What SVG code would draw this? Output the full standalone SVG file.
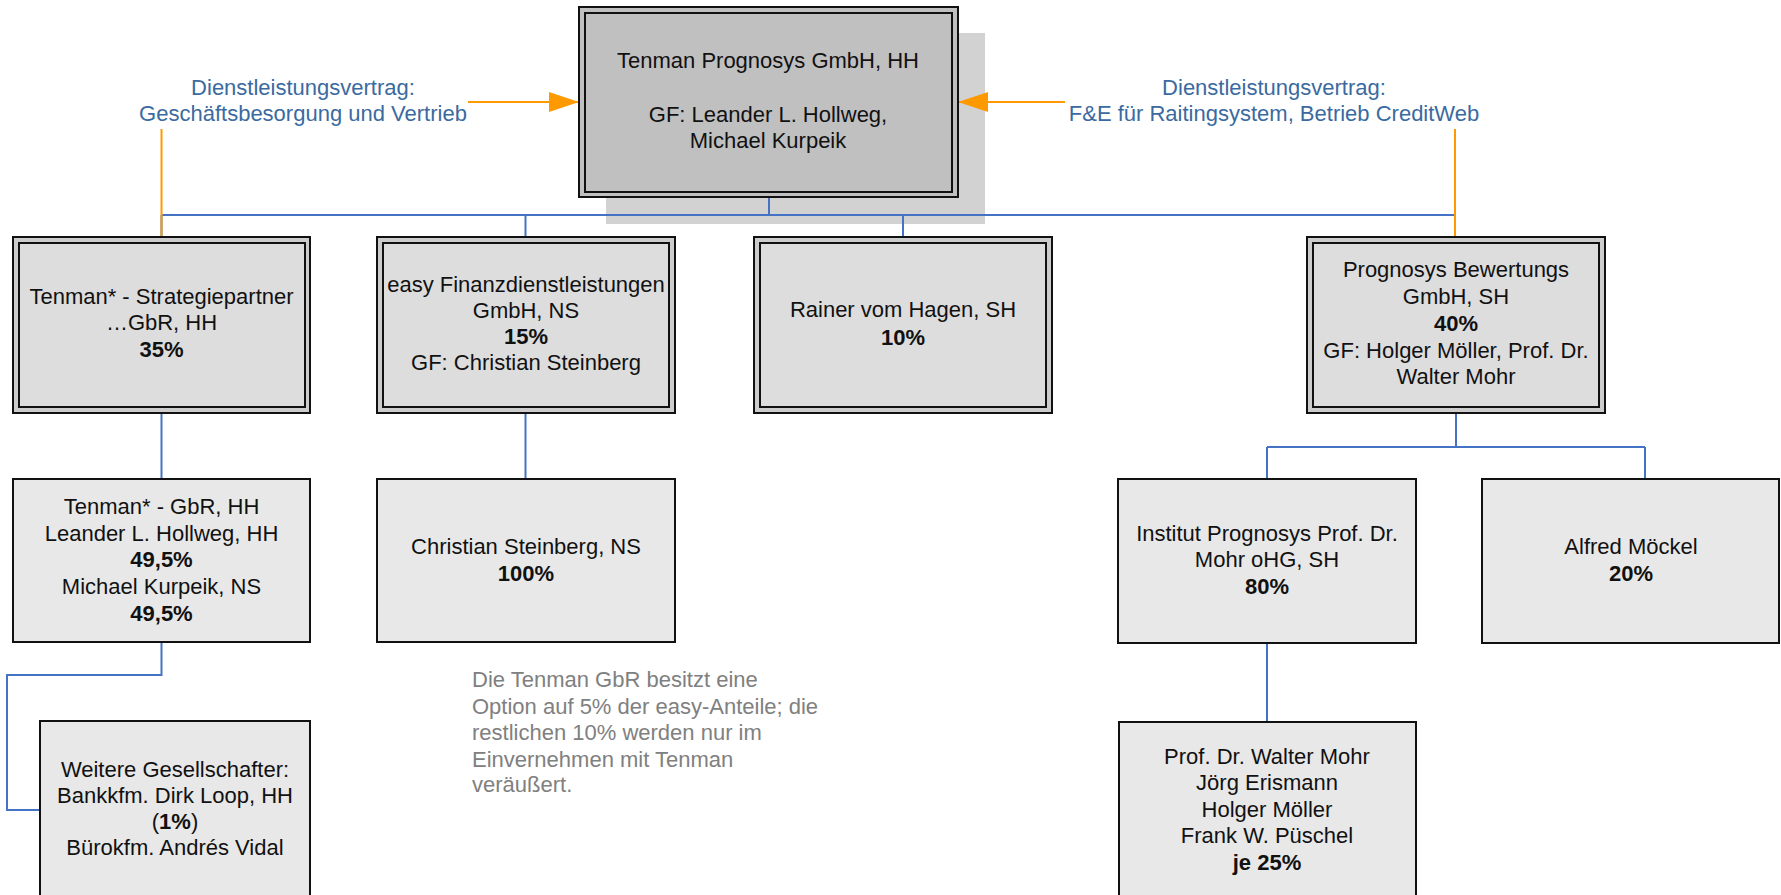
<svg xmlns="http://www.w3.org/2000/svg" width="1781" height="895" viewBox="0 0 1781 895">
<defs>
<style>
text{font-family:"Liberation Sans",Arial,sans-serif;font-size:22px;fill:#111;text-anchor:middle}
.b{font-weight:bold}
.lbl{fill:#3b6aa0}
.note{fill:#808080;text-anchor:start}
.out{fill:#cccccc;stroke:#111;stroke-width:2}
.in{fill:#dddddd;stroke:#111;stroke-width:2}
.box2{fill:#e8e8e8;stroke:#111;stroke-width:2}
.con{fill:none;stroke:#4472c4;stroke-width:2}
.ora{fill:none;stroke:#ff9900;stroke-width:2}
</style>
<marker id="ah" markerWidth="30" markerHeight="20" refX="30" refY="10" orient="auto" markerUnits="userSpaceOnUse">
<path d="M0,0 L30,10 L0,20 Z" fill="#ff9900"/>
</marker>
</defs>
<rect width="1781" height="895" fill="#ffffff"/>

<rect x="606" y="33" width="379" height="191" fill="#d2d2d2"/>

<g id="connectors">
<path class="con" d="M769 197 V215"/>
<path class="con" d="M161.5 215 H1455"/>
<path class="con" d="M161.5 215 V237"/>
<path class="con" d="M525.5 215 V237"/>
<path class="con" d="M903 215 V237"/>
<path class="con" d="M1455 215 V237"/>
<path class="con" d="M161.5 413 V479"/>
<path class="con" d="M525.5 413 V479"/>
<path class="con" d="M1456 413 V447 M1267 447 H1645 M1267 447 V479 M1645 447 V479"/>
<path class="con" d="M161.5 642 V675 H7 V810 H40"/>
<path class="con" d="M1267 643 V722"/>
<path class="ora" d="M161.5 129 V237"/>
<path class="ora" d="M1455 129 V237"/>
<path class="ora" d="M468 102 H579" marker-end="url(#ah)"/>
<path class="ora" d="M1065 102 H958" marker-end="url(#ah)"/>
</g>

<g id="top">
<rect x="579" y="7" width="379" height="190" fill="#c0c0c0" stroke="#111" stroke-width="2"/>
<rect x="585" y="13" width="367" height="179" fill="#c0c0c0" stroke="#111" stroke-width="2"/>
<text x="768" y="68">Tenman Prognosys GmbH, HH</text>
<text x="768" y="122">GF: Leander L. Hollweg,</text>
<text x="768" y="148">Michael Kurpeik</text>
</g>

<g id="label-left">
<text class="lbl" x="303" y="95">Dienstleistungsvertrag:</text>
<text class="lbl" x="303" y="121">Geschäftsbesorgung und Vertrieb</text>
</g>
<g id="label-right">
<text class="lbl" x="1274" y="95">Dienstleistungsvertrag:</text>
<text class="lbl" x="1274" y="121">F&amp;E für Raitingsystem, Betrieb CreditWeb</text>
</g>

<g id="boxA">
<rect class="out" x="13" y="237" width="297" height="176"/>
<rect class="in" x="19" y="243" width="286" height="164"/>
<text x="161.5" y="304">Tenman* - Strategiepartner</text>
<text x="161.5" y="330">…GbR, HH</text>
<text class="b" x="161.5" y="356.5">35%</text>
</g>

<g id="boxB">
<rect class="out" x="377" y="237" width="298" height="176"/>
<rect class="in" x="383" y="243" width="286" height="164"/>
<text x="526" y="291.5">easy Finanzdienstleistungen</text>
<text x="526" y="317.5">GmbH, NS</text>
<text class="b" x="526" y="344">15%</text>
<text x="526" y="370">GF: Christian Steinberg</text>
</g>

<g id="boxC">
<rect class="out" x="754" y="237" width="298" height="176"/>
<rect class="in" x="760" y="243" width="286" height="164"/>
<text x="903" y="317">Rainer vom Hagen, SH</text>
<text class="b" x="903" y="344.5">10%</text>
</g>

<g id="boxD">
<rect class="out" x="1307" y="237" width="298" height="176"/>
<rect class="in" x="1313" y="243" width="286" height="164"/>
<text x="1456" y="277">Prognosys Bewertungs</text>
<text x="1456" y="304">GmbH, SH</text>
<text class="b" x="1456" y="330.5">40%</text>
<text x="1456" y="357.5">GF: Holger Möller, Prof. Dr.</text>
<text x="1456" y="384">Walter Mohr</text>
</g>

<g id="boxE">
<rect class="box2" x="13" y="479" width="297" height="163"/>
<text x="161.5" y="513.5">Tenman* - GbR, HH</text>
<text x="161.5" y="540.5">Leander L. Hollweg, HH</text>
<text class="b" x="161.5" y="567">49,5%</text>
<text x="161.5" y="593.5">Michael Kurpeik, NS</text>
<text class="b" x="161.5" y="620.5">49,5%</text>
</g>

<g id="boxF">
<rect class="box2" x="377" y="479" width="298" height="163"/>
<text x="526" y="553.5">Christian Steinberg, NS</text>
<text class="b" x="526" y="580.5">100%</text>
</g>

<g id="boxG">
<rect class="box2" x="40" y="721" width="270" height="190"/>
<text x="175" y="776.5">Weitere Gesellschafter:</text>
<text x="175" y="802.5">Bankkfm. Dirk Loop, HH</text>
<text x="175" y="829">(<tspan class="b">1%</tspan>)</text>
<text x="175" y="855">Bürokfm. Andrés Vidal</text>
</g>

<g id="note">
<text class="note" x="472" y="687">Die Tenman GbR besitzt eine</text>
<text class="note" x="472" y="713.5">Option auf 5% der easy-Anteile; die</text>
<text class="note" x="472" y="740">restlichen 10% werden nur im</text>
<text class="note" x="472" y="766.5">Einvernehmen mit Tenman</text>
<text class="note" x="472" y="792">veräußert.</text>
</g>

<g id="boxH">
<rect class="box2" x="1118" y="479" width="298" height="164"/>
<text x="1267" y="540.5">Institut Prognosys Prof. Dr.</text>
<text x="1267" y="567">Mohr oHG, SH</text>
<text class="b" x="1267" y="593.5">80%</text>
</g>

<g id="boxI">
<rect class="box2" x="1482" y="479" width="297" height="164"/>
<text x="1631" y="553.5">Alfred Möckel</text>
<text class="b" x="1631" y="580.5">20%</text>
</g>

<g id="boxJ">
<rect class="box2" x="1119" y="722" width="297" height="190"/>
<text x="1267" y="763.5">Prof. Dr. Walter Mohr</text>
<text x="1267" y="790">Jörg Erismann</text>
<text x="1267" y="816.5">Holger Möller</text>
<text x="1267" y="843">Frank W. Püschel</text>
<text class="b" x="1267" y="869.5">je 25%</text>
</g>
</svg>
